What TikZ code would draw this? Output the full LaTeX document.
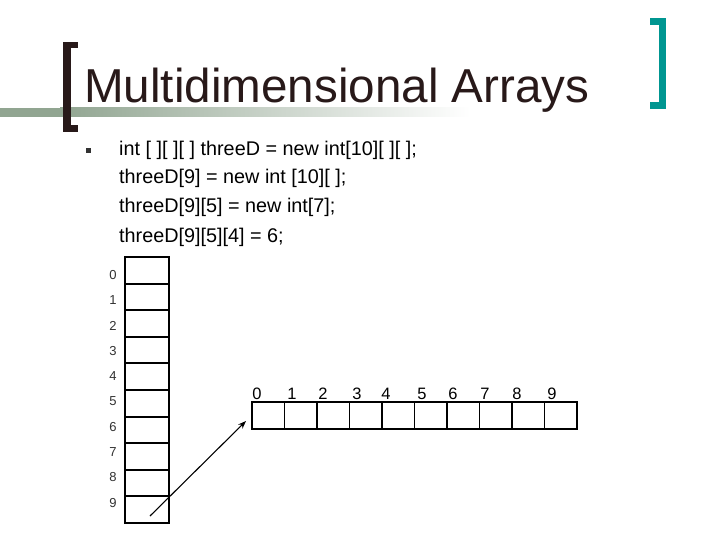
\documentclass[tikz,border=0pt]{standalone}
\usepackage{fontspec}
\setmainfont{Liberation Sans}
\usetikzlibrary{arrows.meta}
\definecolor{brk}{RGB}{40,25,25}
\definecolor{tealbr}{RGB}{0,150,145}
\definecolor{bargreen}{RGB}{145,165,145}
\definecolor{lbl}{RGB}{50,50,50}
\tikzset{
  colcell/.style={draw=black, line width=1.9pt, minimum width=44pt, minimum height=26.6pt, inner sep=0pt, outer sep=0pt},
  rowcell/.style={draw=black, line width=1.9pt, minimum width=32.5pt, minimum height=27pt, inner sep=0pt, outer sep=0pt},
  frame/.style={draw=black, line width=2.8pt},
  idx/.style={font=\fontsize{13}{15}\selectfont, text=lbl, inner sep=0pt},
  hidx/.style={font=\fontsize{16.5}{18}\selectfont, text=black, inner sep=0pt, anchor=base},
  code/.style={font=\fontsize{19.8}{22}\selectfont, anchor=base west, inner sep=0pt}
}
\begin{document}
\begin{tikzpicture}[x=1pt,y=-1pt]
\useasboundingbox (0,0) rectangle (720,540);
\fill[white] (0,0) rectangle (720,540);
% green rule with fade
\fill[bargreen] (0,108) rectangle (60,117);
\shade[left color=bargreen, right color=white] (60,108) rectangle (470,117);
% left bracket
\fill[brk] (63,42) rectangle (71,132);
\fill[brk] (63,42) rectangle (78,48);
\fill[brk] (63,125) rectangle (78,132);
% right bracket
\fill[tealbr] (659,18) rectangle (666,109);
\fill[tealbr] (650,18) rectangle (666,25);
\fill[tealbr] (650,102) rectangle (666,109);
% title
\node[anchor=base west, inner sep=0pt, text=brk, font=\fontsize{47.6}{56}\selectfont] (title) at (84,103) {Multidimensional Arrays};
% bullet and code
\node[fill=lbl, minimum size=5pt, inner sep=0pt] (bul) at (88,151) {};
\node[code] (l1) at (119,156) {int [ ][ ][ ] threeD = new int[10][ ][ ];};
\node[code] (l2) at (119,184) {threeD[9] = new int [10][ ];};
\node[code] (l3) at (119,213) {threeD[9][5] = new int[7];};
\node[code] (l4) at (119,242) {threeD[9][5][4] = 6;};
% vertical array
\foreach \i in {0,...,9}{
  \node[colcell] (c\i) at (147,{257+26.6*\i+13.3}) {};
  \node[idx] (ci\i) at (113,{275+25.3*\i}) {\i};
}
\draw[frame] (c0.north west) rectangle (c9.south east);
% horizontal array
\foreach \i/\lx in {0/257,1/292,2/323,3/357,4/386,5/422,6/453,7/485,8/517,9/552}{
  \node[rowcell] (r\i) at ({252+32.5*\i+16.25},415.5) {};
  \node[hidx] (ri\i) at (\lx,399) {\i};
}
\draw[frame] (r0.north west) rectangle (r9.south east);
% arrow
\coordinate (from) at (150,516);
\coordinate (to) at (246,421);
\draw[line width=1.1pt, -{Stealth[length=8pt,width=6pt]}] (from) -- (to);
\end{tikzpicture}
\end{document}
